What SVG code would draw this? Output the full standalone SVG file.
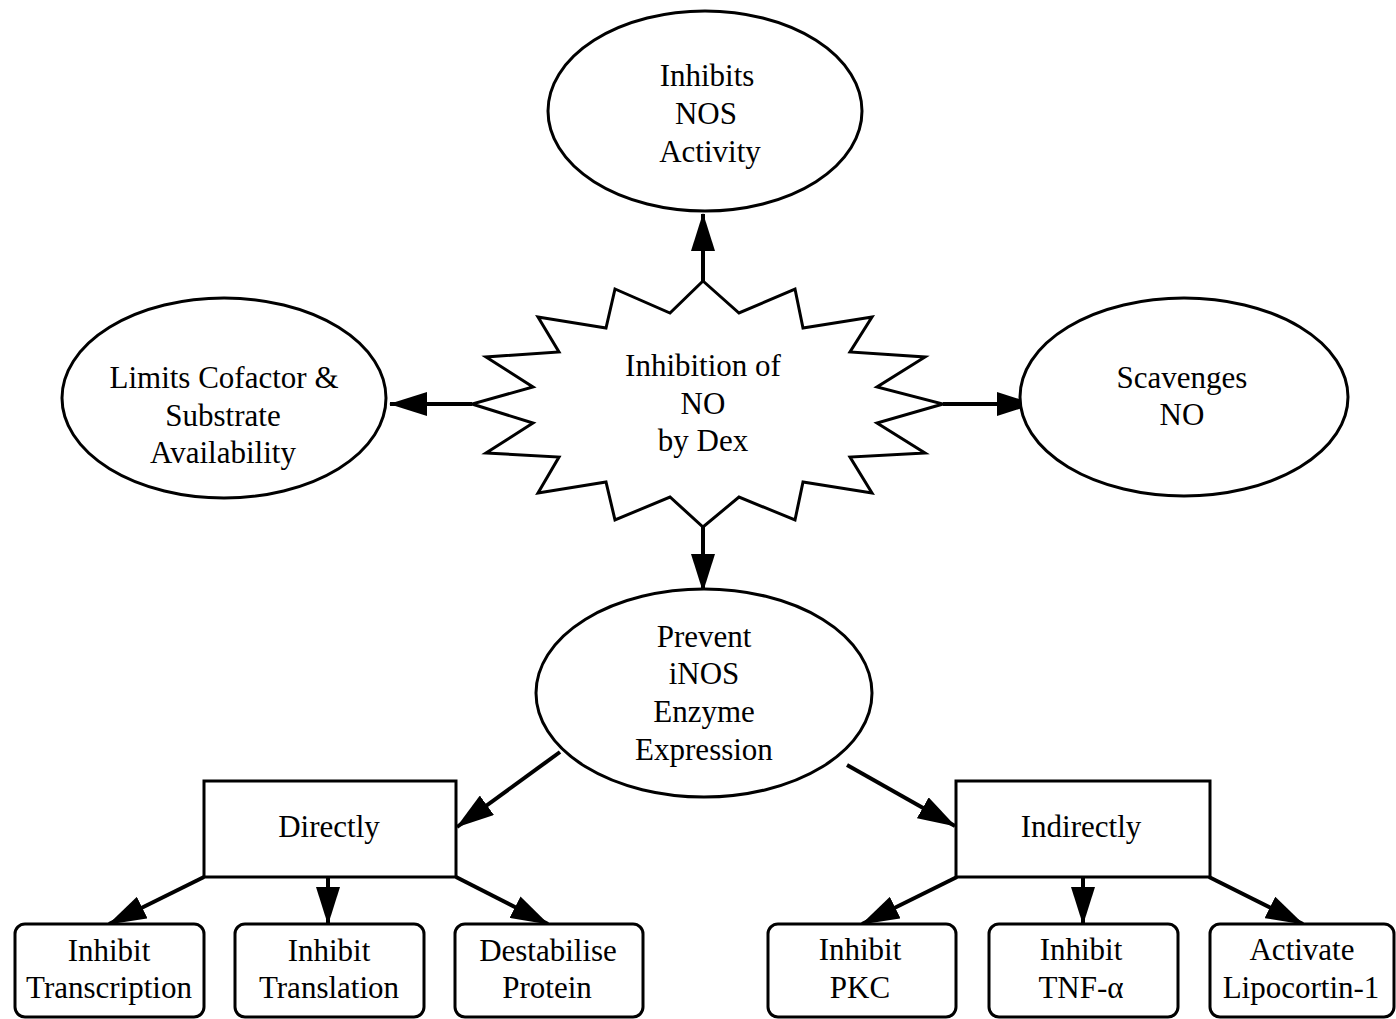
<svg xmlns="http://www.w3.org/2000/svg" width="1396" height="1019" viewBox="0 0 1396 1019">
<style>
.s{fill:#fff;stroke:#000;stroke-width:3}
.t{font-family:"Liberation Serif","Times New Roman",serif;font-size:31px;fill:#000;text-anchor:middle}
.c{stroke:#000;stroke-width:4;fill:none}
</style>
<defs>
<marker id="ah" viewBox="0 0 38 24" markerWidth="38" markerHeight="24" refX="37" refY="12" orient="auto" markerUnits="userSpaceOnUse">
<path d="M0,0 L38,12 L0,24 z" fill="#000"/>
</marker>
</defs>
<rect width="1396" height="1019" fill="#fff"/>
<g id="connectors">
<line class="c" x1="703" y1="281" x2="703" y2="214" marker-end="url(#ah)"/>
<polyline class="c" points="472,404 455,404 390,404" marker-end="url(#ah)"/>
<line class="c" x1="943" y1="404" x2="1034" y2="404" marker-end="url(#ah)"/>
<line class="c" x1="703" y1="527" x2="703" y2="591" marker-end="url(#ah)"/>
<line class="c" x1="560" y1="752" x2="457" y2="827" marker-end="url(#ah)"/>
<line class="c" x1="847" y1="765" x2="955" y2="826" marker-end="url(#ah)"/>
<line class="c" x1="204" y1="877" x2="109" y2="924" marker-end="url(#ah)"/>
<line class="c" x1="328" y1="877" x2="328" y2="924" marker-end="url(#ah)"/>
<line class="c" x1="456" y1="877" x2="548" y2="924" marker-end="url(#ah)"/>
<line class="c" x1="957" y1="877" x2="862" y2="924" marker-end="url(#ah)"/>
<line class="c" x1="1083" y1="877" x2="1083" y2="924" marker-end="url(#ah)"/>
<line class="c" x1="1209" y1="877" x2="1303" y2="924" marker-end="url(#ah)"/>
</g>
<g id="center">
<polygon class="s" points="703,281 739,313 795,289 803,328 872,317 850,352 925,357 877,387 943,404 877,423 925,453 850,457 872,493 803,482 795,520 739,497 703,527 670,497 615,520 606,482 538,493 559,457 486,453 533,423 472,404 533,387 486,357 559,352 538,317 606,328 615,289 670,313"/>
<text class="t" x="703" y="376">Inhibition of</text>
<text class="t" x="703" y="414">NO</text>
<text class="t" x="703" y="451">by Dex</text>
</g>
<g id="nos-activity">
<ellipse class="s" cx="705" cy="111" rx="157" ry="100"/>
<text class="t" x="707" y="86">Inhibits</text>
<text class="t" x="706" y="124">NOS</text>
<text class="t" x="710" y="162">Activity</text>
</g>
<g id="cofactor">
<ellipse class="s" cx="224" cy="398" rx="162" ry="100"/>
<text class="t" x="224" y="388">Limits Cofactor &amp;</text>
<text class="t" x="223" y="426">Substrate</text>
<text class="t" x="223" y="463">Availability</text>
</g>
<g id="scavenges">
<ellipse class="s" cx="1184" cy="397" rx="164" ry="99"/>
<text class="t" x="1182" y="388">Scavenges</text>
<text class="t" x="1182" y="425">NO</text>
</g>
<g id="prevent">
<ellipse class="s" cx="704" cy="693" rx="168" ry="104"/>
<text class="t" x="704" y="647">Prevent</text>
<text class="t" x="704" y="684">iNOS</text>
<text class="t" x="704" y="722">Enzyme</text>
<text class="t" x="704" y="760">Expression</text>
</g>
<g id="directly">
<rect class="s" x="204" y="781" width="252" height="96"/>
<text class="t" x="329" y="837">Directly</text>
</g>
<g id="indirectly">
<rect class="s" x="956" y="781" width="254" height="96"/>
<text class="t" x="1081" y="837">Indirectly</text>
</g>
<g id="transcription">
<rect class="s" x="15" y="924" width="189" height="93" rx="10"/>
<text class="t" x="109" y="961">Inhibit</text>
<text class="t" x="109" y="998">Transcription</text>
</g>
<g id="translation">
<rect class="s" x="235" y="924" width="189" height="93" rx="10"/>
<text class="t" x="329" y="961">Inhibit</text>
<text class="t" x="329" y="998">Translation</text>
</g>
<g id="destabilise">
<rect class="s" x="455" y="924" width="188" height="93" rx="10"/>
<text class="t" x="548" y="961">Destabilise</text>
<text class="t" x="547" y="998">Protein</text>
</g>
<g id="pkc">
<rect class="s" x="768" y="924" width="188" height="93" rx="10"/>
<text class="t" x="860" y="960">Inhibit</text>
<text class="t" x="860" y="998">PKC</text>
</g>
<g id="tnf">
<rect class="s" x="989" y="924" width="189" height="93" rx="10"/>
<text class="t" x="1081" y="960">Inhibit</text>
<text class="t" x="1081" y="998">TNF-α</text>
</g>
<g id="lipocortin">
<rect class="s" x="1210" y="924" width="184" height="93" rx="10"/>
<text class="t" x="1302" y="960">Activate</text>
<text class="t" x="1301" y="998">Lipocortin-1</text>
</g>
</svg>
